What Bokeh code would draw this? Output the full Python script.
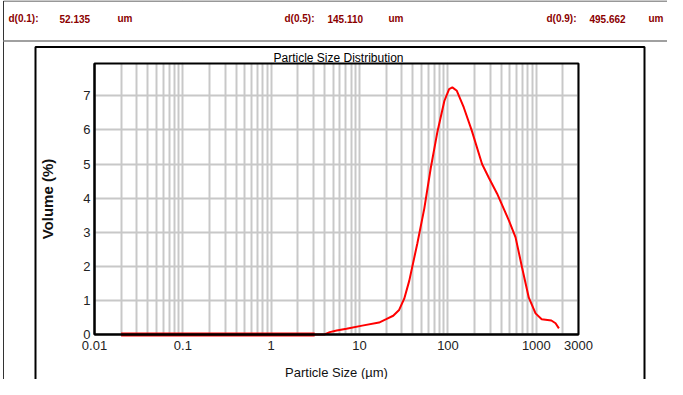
from bokeh.plotting import figure
from bokeh.models import (FixedTicker, Range1d, ColumnDataSource, LogAxis, LinearAxis,
                          Grid, LinearScale, LogScale)
from bokeh.core.properties import value
from bokeh.embed import file_html
from bokeh.resources import INLINE
import math

# ---- data ----
sizes = [0.02, 3.1, 4.0, 4.6, 5.5, 7.1, 10.7, 16.6, 20, 24, 28, 32, 36.5, 45, 54, 64,
         76, 91, 103, 112, 126, 151, 186, 243, 290, 360, 490, 582, 690, 822, 980,
         1150, 1480, 1650, 1800]
volumes = [0.0, 0.0, 0.0, 0.07, 0.12, 0.17, 0.26, 0.35, 0.45, 0.55, 0.72, 1.05, 1.58, 2.67, 3.7, 4.9,
           5.95, 6.85, 7.2, 7.25, 7.15, 6.66, 5.98, 5.0, 4.6, 4.13, 3.34, 2.85, 1.96, 1.08, 0.62,
           0.45, 0.41, 0.33, 0.18]
x_ticks = [0.01, 0.1, 1, 10, 100, 1000, 3000]
x_tick_labels = ["0.01", "0.1", "1", "10", "100", "1000", "3000"]
y_ticks = [0, 1, 2, 3, 4, 5, 6, 7]
header_names = ["d(0.1):", "d(0.5):", "d(0.9):"]
header_values = ["52.135", "145.110", "495.662"]
header_unit = "um"
title_text = "Particle Size Distribution"
x_title = "Particle Size (\u00b5m)"
y_title = "Volume (%)"

# ---- layout (pixel positions in the picture) ----
W, H = 667, 379
PL, PR, PT, PB = 94, 578, 63, 334          # plot area
XMIN, XMAX, YMIN, YMAX = 0.01, 3000, 0.0, 7.95
FONT = "Liberation Sans"

# whole canvas is the frame; data ranges are extended so the plot area lands on PL..PR, PT..PB
dec = (PR - PL) / (math.log10(XMAX) - math.log10(XMIN))
lx0 = math.log10(XMIN) - PL / dec
lx1 = math.log10(XMIN) + (W - PL) / dec
upp = (YMAX - YMIN) / (PB - PT)
y0 = YMIN - (H - PB) * upp
y1 = YMIN + PB * upp

p = figure(width=W, height=H, x_axis_type="log", x_axis_location=None, y_axis_location=None,
           x_range=Range1d(10 ** lx0, 10 ** lx1), y_range=Range1d(y0, y1),
           output_backend="svg", toolbar_location=None,
           min_border_left=0, min_border_right=0, min_border_top=0, min_border_bottom=0)
p.x_scale = LogScale()
p.title_location = None
p.outline_line_color = None
p.background_fill_color = "white"
p.border_fill_color = "white"
p.extra_x_ranges = {"px": Range1d(0, W)}
p.extra_y_ranges = {"px": Range1d(H, 0)}
p.extra_x_scales = {"px": LinearScale()}
p.extra_y_scales = {"px": LinearScale()}

minor = [m * d for d in [0.01, 0.1, 1, 10, 100, 1000] for m in range(2, 10) if m * d <= XMAX]
xticker = FixedTicker(ticks=x_ticks, minor_ticks=minor)
yticker = FixedTicker(ticks=y_ticks)

# grids, limited to the plot area
gx = Grid(dimension=0, ticker=xticker, bounds=(XMIN, XMAX),
          grid_line_color="#c8c8c8", grid_line_width=2,
          minor_grid_line_color="#c8c8c8", minor_grid_line_width=2)
gy = Grid(dimension=1, ticker=yticker, bounds=(YMIN, YMAX),
          grid_line_color="#c8c8c8", grid_line_width=2)
if "cross_bounds" in Grid.properties():
    gx.cross_bounds = (YMIN, YMAX)
    gy.cross_bounds = (XMIN, XMAX)
p.add_layout(gx)
p.add_layout(gy)

# white masks around the plot area (hide any grid outside it)
PX = dict(x_range_name="px", y_range_name="px")
p.quad(left=[0, PR + 1, 0, 0], right=[PL - 1, W, W, W], top=[0, 0, 0, PB + 1],
       bottom=[H, H, PT - 1, H], fill_color="white", line_color=None, **PX)

# data curve
src = ColumnDataSource(dict(x=sizes, y=volumes))
p.line("x", "y", source=src, line_color="red", line_width=2)
zx = [s for s, v in zip(sizes, volumes) if v == 0 and s <= 3.1]
zy = [v for s, v in zip(sizes, volumes) if v == 0 and s <= 3.1]
p.line(zx, zy, line_color="red", line_width=4)

# plot-area outline
p.quad(left=[XMIN], right=[XMAX], bottom=[YMIN], top=[YMAX],
       fill_color=None, line_color="black", line_width=2)

# axes fixed at the plot-area edges
xaxis = LogAxis(ticker=xticker, fixed_location=YMIN, bounds=(XMIN, XMAX))
xaxis.major_label_overrides = {t: l for t, l in zip(x_ticks, x_tick_labels)}
yaxis = LinearAxis(ticker=yticker, fixed_location=XMIN, bounds=(YMIN, YMAX))
for ax in (xaxis, yaxis):
    ax.axis_line_color = "black"
    ax.axis_line_width = 2
    ax.major_tick_line_color = None
    ax.minor_tick_line_color = None
    ax.major_tick_out = 0
    ax.major_tick_in = 0
    ax.minor_tick_out = 0
    ax.minor_tick_in = 0
    ax.major_label_text_font = FONT
    ax.major_label_text_font_size = "13px"
    ax.major_label_text_color = "#222222"
    ax.axis_label_text_color = "#111111"
xaxis.major_label_standoff = 6
yaxis.major_label_standoff = 4
xaxis.axis_label = x_title
xaxis.axis_label_text_font = FONT
xaxis.axis_label_text_font_size = "13px"
xaxis.axis_label_text_font_style = "normal"
xaxis.axis_label_standoff = 12
yaxis.axis_label = y_title
yaxis.axis_label_text_font = FONT
yaxis.axis_label_text_font_size = "15px"
yaxis.axis_label_text_font_style = "bold"
yaxis.axis_label_standoff = 24
p.add_layout(xaxis, "below")
p.add_layout(yaxis, "left")

# page frames
p.quad(left=[3], right=[674], top=[0.5], bottom=[391], fill_color=None,
       line_color="#333333", line_width=1, **PX)
p.quad(left=[3], right=[674], top=[39.5], bottom=[41.5], fill_color="#a0a0a0",
       line_color=None, **PX)
p.quad(left=[35], right=[644], top=[46.5], bottom=[385], fill_color=None,
       line_color="black", line_width=2, **PX)

# header texts
hx = [(8, 59, 117), (284, 327, 388), (546, 589, 648)]
htxt, hxs = [], []
for (a, b, c), n, v in zip(hx, header_names, header_values):
    htxt += [n, v, header_unit]
    hxs += [a, b, c]
p.text(x=hxs, y=[18] * len(hxs), text=htxt, text_font=value(FONT), text_font_size="10px",
       text_font_style="bold", text_color="#8b0000", text_baseline="middle",
       text_align="left", **PX)

# chart title
p.text(x=[338], y=[57.5], text=[title_text], text_font=value(FONT), text_font_size="12px",
       text_color="black", text_baseline="middle", text_align="center", **PX)

open("out.html", "w").write(file_html(p, INLINE))
